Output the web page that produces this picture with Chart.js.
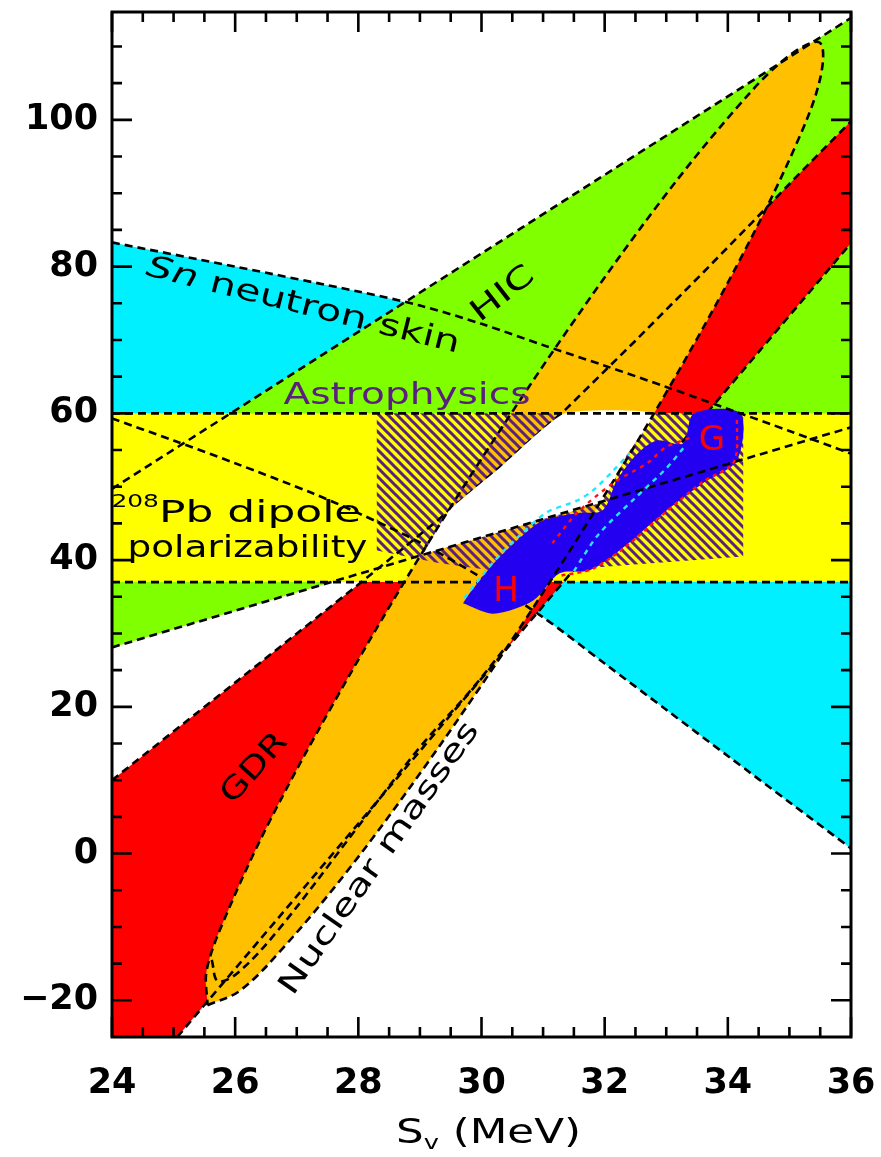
<!DOCTYPE html>
<html>
<head>
<meta charset="utf-8">
<script src="https://cdn.jsdelivr.net/npm/chart.js@4.4.1/dist/chart.umd.min.js"></script>
<style>
  html, body { margin: 0; padding: 0; background: #fff; }
  #wrap { width: 881px; height: 1157px; }
</style>
</head>
<body>
<div id="wrap"><canvas id="chart" width="881" height="1157"></canvas></div>
<script>
// Symmetry-energy constraints: S_v (MeV) on x, L (MeV) on y.
const xTickValues = [24, 26, 28, 30, 32, 34, 36];
const yTickValues = [-20, 0, 20, 40, 60, 80, 100];
const xMinorStep = 0.5;
const yMinorStep = 5;
const xRange = [24, 36];
const yRange = [-25, 114.7];

// Sn neutron skin band (upper and lower edges)
const snSkinUpper = [[24, 83.3], [26, 80.0], [28, 76.6], [29, 74.7], [30, 72.2], [31, 69.3],
  [32, 66.5], [33, 63.6], [34, 60.6], [35, 57.6], [36, 54.5]];
const snSkinLower = [[24, 59.3], [25, 56.3], [26, 53.2], [27.26, 49.1], [28, 46.4], [29, 42.4],
  [30, 37.6], [31, 32.2], [32, 25.9], [33, 19.6], [34, 13.3], [35, 7.0], [36, 0.7]];

// Heavy-ion collisions wedge
const hicUpper = [[24, 49.7], [36, 113.9]];
const hicLower = [[24, 28.1], [36, 58.1]];

// 208Pb dipole polarizability band (L limits)
const pbDipoleBand = [37, 60];

// Giant dipole resonance band
const gdrUpper = [[24, 10], [26, 23.3], [28.05, 37], [29.3, 45.5], [30.3, 52.7], [31.35, 60.4],
  [32.5, 69.9], [33.6, 79.2], [34.45, 86.5], [35.2, 93], [36, 99.8]];
const gdrLower = [[25.06, -25], [36, 83.2]];

// Nuclear masses contour
const nuclearMasses = [[25.55, -20.67], [26.08, -18.67], [26.79, -12.75], [27.84, -2.18],
  [29.10, 12.08], [30.48, 28.95], [31.80, 46.16], [33.06, 63.70], [34.24, 81.63], [35.10, 96.47],
  [35.50, 105.65], [35.49, 110.54], [34.96, 108.54], [34.14, 101.60], [32.90, 88.80],
  [31.47, 72.21], [30.11, 55.22], [28.81, 37.90], [27.58, 20.24], [26.57, 4.58],
  [25.88, -7.87], [25.54, -15.78], [25.55, -20.67]];
// narrower mass contour, visible along the lower-right side
const nuclearMassesInner = [[25.62, -14.5], [25.72, -17.4], [26.05, -16.2], [26.73, -10.1],
  [27.98, 3.5], [29.0, 14.5], [29.8, 22.0], [30.4, 28.2]];

// Astrophysical (neutron star) region
const astrophysicsRegion = [[28.3, 60], [34.25, 60], [34.25, 40.5], [31.5, 38.8], [30.5, 38.2],
  [29.3, 39.6], [28.3, 41.3], [28.3, 60]];

// Region allowed by all experimental constraints
const overlapRegion = [[29.05, 40.75], [29.47, 46.7], [30.3, 52.6], [31.35, 60], [32.79, 60],
  [32.35, 54.2], [31.94, 47.95], [31.0, 45.6], [30.0, 43.1], [29.05, 40.75]];

// Neutron matter calculations (G and H)
const neutronMatterGH = [[29.70, 34.1], [30.19, 32.7], [30.84, 34.5], [31.27, 38.2], [31.76, 38.6],
  [32.30, 41.7], [32.95, 46.4], [33.60, 50.5], [34.15, 53.6], [34.20, 60.0], [33.45, 60.0],
  [33.27, 55.9], [32.85, 56.3], [32.53, 54.5], [32.20, 50.9], [31.97, 46.8], [31.55, 46.4],
  [31.0, 45.4], [30.58, 42.7], [30.14, 39.0], [29.81, 35.5], [29.70, 34.1]];
const gBoundary = [[31.15, 42.3], [31.55, 46.4], [32.14, 50.5], [32.69, 53.2], [33.0, 55.4], [33.4, 56.7]];
const gOuterEdge = [[31.3, 37.9], [31.8, 38.8], [32.35, 41.9], [33.0, 46.6], [33.6, 50.7], [34.1, 53.4], [34.15, 59.5]];
const hBoundary = [[29.72, 34.8], [30.2, 39.8], [30.6, 43.2], [31.06, 46.5], [31.55, 48.1],
  [31.81, 49.5], [32.14, 52.2], [32.4, 54.5]];
const gInner = [[31.5, 38.5], [31.9, 43.5], [32.5, 48.5], [33.0, 52.5], [33.3, 55.5]];

// ---------------------------------------------------------------------------
const COLORS = {
  cyan: '#00f0ff', green: '#80ff00', yellow: '#ffff00', red: '#ff0000',
  orange: '#ffc000', blue: '#2400f0', purple: '#5a2080', white: '#ffffff'
};
const DASH = [8, 5];

function hatchPattern(color, step, width) {
  const c = document.createElement('canvas');
  c.width = step; c.height = step;
  const g = c.getContext('2d');
  g.strokeStyle = color; g.lineWidth = width; g.lineCap = 'square';
  g.beginPath();
  for (let k = -1; k <= 1; k++) {
    g.moveTo(-1, k * step - 1);
    g.lineTo(step + 1, k * step + step + 1);
  }
  g.stroke();
  return g.createPattern(c, 'repeat');
}

const toPts = arr => arr.map(([x, y]) => ({x, y}));
const closed = arr => arr.concat([arr[0]]);

function area(points, color, tension) {
  return { data: toPts(points), backgroundColor: color, borderWidth: 0, borderColor: 'rgba(0,0,0,0)',
    fill: 'shape', tension: tension || 0, pointRadius: 0 };
}
function curve(points, color, width, dash, tension) {
  return { data: toPts(points), borderColor: color, borderWidth: width, borderDash: dash,
    fill: false, tension: tension || 0, pointRadius: 0, borderCapStyle: 'butt' };
}

const snSkinArea = snSkinUpper.concat(snSkinLower.slice().reverse());
const hicArea = [hicLower[0], hicLower[1], hicUpper[1], hicUpper[0]];
const pbArea = [[xRange[0], pbDipoleBand[0]], [xRange[1], pbDipoleBand[0]],
  [xRange[1], pbDipoleBand[1]], [xRange[0], pbDipoleBand[1]]];
const gdrArea = [[xRange[0], yRange[0]], gdrLower[0], gdrLower[1]].concat(gdrUpper.slice().reverse());

// listed bottom layer first
const layers = [
  area(closed(snSkinArea), COLORS.cyan),
  area(closed(hicArea), COLORS.green),
  area(closed(gdrArea), COLORS.red),
  area(closed(pbArea), COLORS.yellow),
  area(nuclearMasses, COLORS.orange, 0.35),
  area(astrophysicsRegion, hatchPattern(COLORS.purple, 9, 3)),
  curve(snSkinLower, '#000', 2.6, DASH, 0.3),
  curve(gdrUpper, '#000', 2.6, DASH),
  curve(gdrLower, '#000', 2.6, DASH),
  curve(nuclearMassesInner, '#000', 2.6, DASH, 0.35),
  area(overlapRegion, COLORS.white, 0.15),
  curve([[xRange[0], pbDipoleBand[0]], [xRange[1], pbDipoleBand[0]]], '#000', 2.6, DASH),
  curve([[xRange[0], pbDipoleBand[1]], [xRange[1], pbDipoleBand[1]]], '#000', 2.6, DASH),
  area(neutronMatterGH, COLORS.blue, 0.3),
  curve(snSkinUpper, '#000', 2.6, DASH, 0.3),
  curve(hicUpper, '#000', 2.6, DASH),
  curve(hicLower, '#000', 2.6, DASH),
  curve(nuclearMasses, '#000', 2.6, DASH, 0.35),
  curve(gOuterEdge, '#ff1010', 2.4, [4, 4], 0.3),
  curve(gBoundary, '#ff1010', 2.4, [4, 5], 0.3),
  curve(hBoundary, '#20e8ff', 2.4, [5, 5], 0.3),
  curve(gInner, '#20e8ff', 2.4, [5, 5], 0.3)
];
layers.forEach((d, i) => { d.order = layers.length - i; });

// text drawn inside the plot, positioned in data units
const plotLabels = [
  { parts: [{t: 'Sn', style: 'italic '}, {t: ' neutron skin'}], x: 27.10, y: 74.6, angle: 14, size: 30, width: 322 },
  { parts: [{t: 'HIC'}], x: 30.35, y: 76.2, angle: -38, size: 30, width: 72 },
  { parts: [{t: 'Astrophysics'}], x: 28.79, y: 62.3, angle: 0, size: 30, width: 247, color: COLORS.purple },
  { parts: [{t: '208', size: 17, dy: -12}, {t: 'Pb dipole'}], x: 26.02, y: 46.2, angle: 0, size: 30, width: 250 },
  { parts: [{t: 'polarizability'}], x: 26.20, y: 41.5, angle: 0, size: 30, width: 240 },
  { parts: [{t: 'GDR'}], x: 26.32, y: 11.6, angle: -48, size: 30, width: 84 },
  { parts: [{t: 'Nuclear masses'}], x: 28.35, y: -0.7, angle: -55, size: 30, width: 326 },
  { parts: [{t: 'H'}], x: 30.40, y: 35.6, angle: 0, size: 34, color: '#ff0000' },
  { parts: [{t: 'G'}], x: 33.74, y: 56.2, angle: 0, size: 34, color: '#ff0000' }
];
const FONT = '"DejaVu Sans", sans-serif';

const labelPlugin = {
  id: 'plotLabels',
  afterDatasetsDraw(chart) {
    const {ctx, scales: {x, y}} = chart;
    plotLabels.forEach(lb => {
      ctx.save();
      ctx.translate(x.getPixelForValue(lb.x), y.getPixelForValue(lb.y));
      ctx.rotate(lb.angle * Math.PI / 180);
      ctx.fillStyle = lb.color || '#000';
      ctx.textBaseline = 'middle';
      ctx.textAlign = 'left';
      let natural = 0;
      const widths = lb.parts.map(p => {
        ctx.font = (p.style || '') + (p.size || lb.size) + 'px ' + FONT;
        const w = ctx.measureText(p.t).width;
        natural += w;
        return w;
      });
      const sx = lb.width ? lb.width / natural : 1;
      ctx.scale(sx, 1);
      let cx = -natural / 2;
      lb.parts.forEach((p, i) => {
        ctx.font = (p.style || '') + (p.size || lb.size) + 'px ' + FONT;
        ctx.fillText(p.t, cx, p.dy || 0);
        cx += widths[i];
      });
      ctx.restore();
    });
  }
};

const framePlugin = {
  id: 'frameTicks',
  afterDatasetsDraw(chart) {
    const {ctx, chartArea: a, scales: {x, y}} = chart;
    ctx.save();
    ctx.strokeStyle = '#000';
    ctx.lineWidth = 2.6;
    ctx.beginPath();
    const nx = Math.round((xRange[1] - xRange[0]) / xMinorStep);
    for (let i = 0; i <= nx; i++) {
      const v = xRange[0] + i * xMinorStep;
      const len = xTickValues.includes(v) ? 20 : 10;
      const p = x.getPixelForValue(v);
      ctx.moveTo(p, a.bottom); ctx.lineTo(p, a.bottom - len);
      ctx.moveTo(p, a.top); ctx.lineTo(p, a.top + len);
    }
    for (let v = -20; v <= yRange[1]; v += yMinorStep) {
      const len = yTickValues.includes(v) ? 20 : 10;
      const p = y.getPixelForValue(v);
      ctx.moveTo(a.left, p); ctx.lineTo(a.left + len, p);
      ctx.moveTo(a.right, p); ctx.lineTo(a.right - len, p);
    }
    ctx.stroke();
    ctx.lineWidth = 3;
    ctx.strokeRect(a.left, a.top, a.right - a.left, a.bottom - a.top);
    // axis title with subscript
    ctx.fillStyle = '#000';
    ctx.textBaseline = 'alphabetic';
    const cx = (a.left + a.right) / 2 + 7, base = 1143;
    ctx.font = '34px ' + FONT;
    const wS = ctx.measureText('S').width;
    const wRest = ctx.measureText(' (MeV)').width;
    ctx.font = '20px ' + FONT;
    const wV = ctx.measureText('v').width;
    const natural = wS + wV + wRest;
    const sx = 185 / natural;
    ctx.translate(cx, base);
    ctx.scale(sx, 1);
    let px = -natural / 2;
    ctx.font = '34px ' + FONT; ctx.fillText('S', px, 0); px += wS;
    ctx.font = '20px ' + FONT; ctx.fillText('v', px, 6); px += wV;
    ctx.font = '34px ' + FONT; ctx.fillText(' (MeV)', px, 0);
    ctx.restore();
  }
};

const tickFont = { family: 'DejaVu Sans', size: 35, weight: 'bold' };

new Chart(document.getElementById('chart'), {
  type: 'line',
  data: { datasets: layers },
  options: {
    responsive: false,
    animation: false,
    devicePixelRatio: 1,
    layout: { padding: { top: 12, right: 30, left: 0, bottom: 0 } },
    plugins: { legend: { display: false }, tooltip: { enabled: false } },
    elements: { point: { radius: 0 } },
    scales: {
      x: {
        type: 'linear', min: xRange[0], max: xRange[1],
        afterFit: s => { s.height = 120; s.paddingLeft = 0; s.paddingRight = 0; },
        afterBuildTicks: s => { s.ticks = xTickValues.map(v => ({value: v})); },
        grid: { display: false, drawTicks: false },
        border: { display: false },
        ticks: { font: tickFont, color: '#000', padding: 26, maxRotation: 0, autoSkip: false }
      },
      y: {
        type: 'linear', min: yRange[0], max: yRange[1],
        afterFit: s => { s.width = 112; s.paddingTop = 0; s.paddingBottom = 0; },
        afterBuildTicks: s => { s.ticks = yTickValues.map(v => ({value: v})); },
        grid: { display: false, drawTicks: false },
        border: { display: false },
        ticks: { font: tickFont, color: '#000', padding: 14, autoSkip: false,
          callback: v => (v < 0 ? '\u2212' + Math.abs(v) : String(v)) }
      }
    }
  },
  plugins: [labelPlugin, framePlugin]
});
</script>
</body>
</html>
